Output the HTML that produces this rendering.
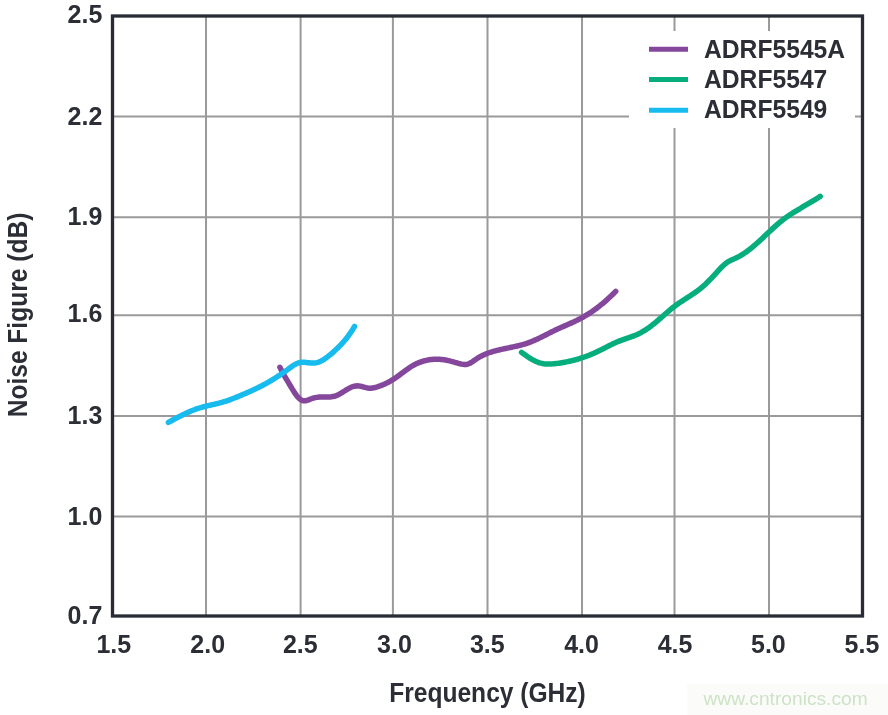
<!DOCTYPE html>
<html><head><meta charset="utf-8"><style>
html,body{margin:0;padding:0;background:#fff;}
body{width:888px;height:715px;overflow:hidden;position:relative;}
svg{position:absolute;left:0;top:0;will-change:transform;}
text{font-family:"Liberation Sans",sans-serif;font-weight:bold;fill:#2c2e36;}
</style></head><body>
<svg width="888" height="715" viewBox="0 0 888 715">
<rect x="0" y="0" width="888" height="715" fill="#fff"/>
<g stroke="#9a9a9c" stroke-width="2" fill="none"><line x1="206.00" y1="16" x2="206.00" y2="616"/><line x1="300.60" y1="16" x2="300.60" y2="616"/><line x1="392.90" y1="16" x2="392.90" y2="616"/><line x1="487.50" y1="16" x2="487.50" y2="616"/><line x1="582.00" y1="16" x2="582.00" y2="616"/><line x1="674.50" y1="16" x2="674.50" y2="616"/><line x1="769.00" y1="16" x2="769.00" y2="616"/><line x1="112.5" y1="116.5" x2="862.5" y2="116.5"/><line x1="112.5" y1="217.3" x2="862.5" y2="217.3"/><line x1="112.5" y1="315.2" x2="862.5" y2="315.2"/><line x1="112.5" y1="415.9" x2="862.5" y2="415.9"/><line x1="112.5" y1="516.5" x2="862.5" y2="516.5"/></g>
<rect x="629" y="31" width="226" height="97" fill="#fff"/>
<g stroke-width="5.5" fill="none" stroke-linecap="round" stroke-linejoin="round">
<path d="M521.53,352.36 L522.72,353.23 L523.92,354.10 L525.15,354.97 L526.38,355.83 L527.63,356.68 L528.90,357.52 L530.19,358.32 L531.49,359.10 L532.80,359.84 L534.13,360.54 L535.48,361.19 L536.85,361.78 L538.24,362.32 L539.64,362.79 L541.05,363.18 L542.49,363.50 L543.94,363.73 L545.41,363.90 L546.89,363.99 L548.38,364.03 L549.88,364.01 L551.39,363.95 L552.89,363.85 L554.40,363.71 L555.91,363.55 L557.41,363.36 L558.91,363.16 L560.41,362.94 L561.90,362.71 L563.38,362.46 L564.86,362.19 L566.34,361.91 L567.81,361.61 L569.27,361.30 L570.73,360.97 L572.19,360.62 L573.64,360.26 L575.08,359.88 L576.52,359.48 L577.95,359.07 L579.38,358.64 L580.80,358.20 L582.22,357.74 L583.63,357.26 L585.04,356.77 L586.43,356.26 L587.83,355.73 L589.22,355.19 L590.60,354.64 L591.97,354.06 L593.34,353.47 L594.71,352.87 L596.06,352.24 L597.42,351.61 L598.76,350.96 L600.10,350.29 L601.44,349.62 L602.78,348.94 L604.11,348.26 L605.45,347.57 L606.78,346.89 L608.12,346.21 L609.46,345.53 L610.81,344.86 L612.15,344.20 L613.51,343.56 L614.87,342.93 L616.24,342.31 L617.61,341.72 L619.00,341.14 L620.40,340.59 L621.81,340.07 L623.22,339.56 L624.64,339.07 L626.07,338.59 L627.50,338.11 L628.92,337.64 L630.35,337.15 L631.76,336.65 L633.17,336.14 L634.56,335.61 L635.94,335.04 L637.31,334.45 L638.66,333.81 L639.98,333.15 L641.30,332.45 L642.59,331.71 L643.87,330.95 L645.14,330.16 L646.39,329.35 L647.62,328.50 L648.85,327.64 L650.06,326.76 L651.26,325.86 L652.45,324.94 L653.63,324.00 L654.80,323.06 L655.96,322.10 L657.11,321.13 L658.25,320.15 L659.39,319.17 L660.52,318.19 L661.65,317.20 L662.77,316.21 L663.89,315.22 L665.01,314.23 L666.14,313.25 L667.26,312.27 L668.39,311.30 L669.53,310.34 L670.68,309.39 L671.83,308.45 L672.99,307.52 L674.17,306.61 L675.36,305.71 L676.56,304.83 L677.78,303.96 L679.01,303.11 L680.25,302.27 L681.50,301.44 L682.75,300.62 L684.01,299.80 L685.27,298.99 L686.54,298.18 L687.80,297.37 L689.06,296.55 L690.32,295.73 L691.58,294.91 L692.83,294.08 L694.07,293.23 L695.30,292.38 L696.52,291.51 L697.72,290.63 L698.92,289.73 L700.09,288.81 L701.25,287.86 L702.39,286.90 L703.52,285.92 L704.63,284.92 L705.72,283.90 L706.81,282.87 L707.88,281.82 L708.94,280.76 L709.99,279.69 L711.03,278.60 L712.07,277.51 L713.09,276.41 L714.11,275.30 L715.13,274.18 L716.14,273.06 L717.15,271.94 L718.16,270.81 L719.17,269.70 L720.20,268.60 L721.23,267.52 L722.29,266.46 L723.37,265.44 L724.47,264.46 L725.61,263.53 L726.79,262.65 L728.01,261.83 L729.27,261.08 L730.59,260.40 L731.94,259.77 L733.31,259.17 L734.69,258.58 L736.05,257.96 L737.39,257.30 L738.71,256.62 L740.01,255.90 L741.29,255.15 L742.55,254.37 L743.80,253.57 L745.03,252.74 L746.24,251.89 L747.44,251.02 L748.63,250.13 L749.81,249.22 L750.97,248.30 L752.12,247.36 L753.27,246.40 L754.41,245.44 L755.53,244.46 L756.66,243.47 L757.77,242.47 L758.88,241.47 L759.99,240.45 L761.09,239.44 L762.19,238.41 L763.28,237.38 L764.37,236.35 L765.47,235.32 L766.56,234.29 L767.65,233.25 L768.75,232.22 L769.84,231.19 L770.94,230.17 L772.05,229.14 L773.15,228.13 L774.26,227.12 L775.38,226.12 L776.51,225.13 L777.64,224.15 L778.78,223.17 L779.93,222.22 L781.09,221.27 L782.25,220.34 L783.43,219.42 L784.63,218.52 L785.83,217.64 L787.05,216.78 L788.27,215.92 L789.51,215.09 L790.75,214.26 L792.01,213.45 L793.27,212.65 L794.54,211.85 L795.81,211.07 L797.09,210.29 L798.38,209.52 L799.67,208.76 L800.96,208.00 L802.25,207.24 L803.54,206.49 L804.84,205.73 L806.14,204.98 L807.43,204.23 L808.72,203.47 L810.01,202.71 L811.30,201.94 L812.58,201.18 L813.86,200.40 L815.13,199.62 L816.40,198.83 L817.66,198.02 L818.91,197.21 L820.15,196.39" stroke="#06ae7d"/>
<path d="M279.91,367.28 L280.59,368.63 L281.28,369.97 L281.98,371.30 L282.69,372.62 L283.41,373.93 L284.14,375.24 L284.87,376.53 L285.61,377.82 L286.36,379.11 L287.11,380.39 L287.87,381.67 L288.63,382.94 L289.40,384.22 L290.17,385.50 L290.95,386.78 L291.72,388.06 L292.50,389.34 L293.28,390.63 L294.08,391.91 L294.90,393.18 L295.76,394.43 L296.68,395.65 L297.65,396.82 L298.71,397.94 L299.85,398.99 L301.06,399.87 L302.33,400.48 L303.64,400.75 L304.99,400.73 L306.37,400.50 L307.78,400.10 L309.21,399.59 L310.66,399.04 L312.13,398.49 L313.61,398.01 L315.10,397.64 L316.59,397.37 L318.09,397.19 L319.60,397.09 L321.10,397.04 L322.60,397.03 L324.09,397.03 L325.58,397.05 L327.06,397.05 L328.53,397.02 L329.99,396.94 L331.44,396.81 L332.86,396.59 L334.27,396.27 L335.66,395.84 L337.03,395.30 L338.38,394.67 L339.72,393.96 L341.05,393.19 L342.37,392.38 L343.68,391.54 L345.00,390.70 L346.31,389.87 L347.63,389.08 L348.95,388.33 L350.29,387.64 L351.64,387.04 L353.00,386.54 L354.39,386.17 L355.80,385.93 L357.23,385.84 L358.69,385.92 L360.17,386.16 L361.68,386.49 L363.19,386.89 L364.71,387.30 L366.23,387.68 L367.74,387.99 L369.23,388.19 L370.70,388.22 L372.15,388.08 L373.58,387.81 L375.01,387.46 L376.43,387.08 L377.84,386.65 L379.26,386.18 L380.66,385.68 L382.06,385.14 L383.45,384.57 L384.82,383.96 L386.19,383.32 L387.54,382.65 L388.88,381.95 L390.20,381.22 L391.50,380.46 L392.78,379.68 L394.04,378.87 L395.28,378.03 L396.51,377.18 L397.72,376.31 L398.93,375.43 L400.12,374.55 L401.31,373.65 L402.50,372.76 L403.69,371.87 L404.88,370.98 L406.07,370.10 L407.27,369.24 L408.49,368.39 L409.72,367.57 L410.96,366.76 L412.23,365.99 L413.51,365.24 L414.82,364.53 L416.16,363.86 L417.52,363.23 L418.92,362.64 L420.34,362.10 L421.79,361.60 L423.25,361.15 L424.73,360.74 L426.22,360.38 L427.72,360.07 L429.22,359.80 L430.73,359.58 L432.23,359.41 L433.73,359.30 L435.22,359.23 L436.70,359.21 L438.17,359.24 L439.63,359.31 L441.08,359.43 L442.52,359.59 L443.97,359.79 L445.41,360.03 L446.85,360.30 L448.29,360.60 L449.73,360.94 L451.18,361.30 L452.64,361.68 L454.11,362.09 L455.58,362.52 L457.07,362.97 L458.56,363.40 L460.05,363.79 L461.53,364.11 L463.00,364.35 L464.44,364.46 L465.86,364.43 L467.25,364.22 L468.60,363.82 L469.91,363.24 L471.19,362.52 L472.46,361.70 L473.73,360.81 L474.99,359.91 L476.26,359.03 L477.55,358.19 L478.86,357.41 L480.17,356.66 L481.51,355.96 L482.86,355.30 L484.22,354.68 L485.59,354.09 L486.97,353.53 L488.36,353.01 L489.77,352.52 L491.18,352.06 L492.60,351.62 L494.03,351.20 L495.47,350.80 L496.91,350.43 L498.36,350.07 L499.81,349.72 L501.27,349.39 L502.73,349.07 L504.20,348.75 L505.66,348.45 L507.13,348.14 L508.60,347.84 L510.07,347.54 L511.54,347.23 L513.00,346.92 L514.47,346.61 L515.93,346.28 L517.38,345.95 L518.84,345.60 L520.28,345.23 L521.73,344.85 L523.16,344.45 L524.59,344.03 L526.01,343.58 L527.42,343.11 L528.83,342.61 L530.22,342.09 L531.61,341.54 L532.99,340.97 L534.36,340.38 L535.73,339.78 L537.09,339.16 L538.45,338.52 L539.80,337.88 L541.15,337.22 L542.50,336.55 L543.84,335.88 L545.19,335.20 L546.53,334.52 L547.87,333.84 L549.21,333.16 L550.55,332.48 L551.90,331.80 L553.24,331.13 L554.59,330.47 L555.94,329.82 L557.29,329.18 L558.65,328.55 L560.01,327.93 L561.38,327.32 L562.74,326.72 L564.11,326.12 L565.47,325.52 L566.84,324.93 L568.20,324.33 L569.57,323.73 L570.93,323.13 L572.28,322.52 L573.64,321.90 L574.98,321.28 L576.33,320.64 L577.66,319.99 L578.99,319.33 L580.32,318.64 L581.63,317.94 L582.94,317.22 L584.23,316.48 L585.52,315.73 L586.80,314.95 L588.07,314.16 L589.34,313.35 L590.59,312.53 L591.83,311.69 L593.07,310.83 L594.29,309.96 L595.51,309.08 L596.72,308.18 L597.91,307.27 L599.10,306.35 L600.28,305.41 L601.45,304.47 L602.61,303.51 L603.75,302.54 L604.89,301.56 L606.02,300.58 L607.14,299.58 L608.25,298.58 L609.34,297.57 L610.43,296.55 L611.51,295.53 L612.57,294.50 L613.63,293.46 L614.67,292.42 L615.71,291.37" stroke="#84479c"/>
<path d="M168.39,422.38 L169.69,421.67 L171.00,420.96 L172.30,420.25 L173.61,419.54 L174.93,418.84 L176.24,418.14 L177.56,417.45 L178.89,416.76 L180.22,416.08 L181.55,415.42 L182.89,414.76 L184.24,414.11 L185.59,413.47 L186.94,412.85 L188.30,412.24 L189.67,411.65 L191.04,411.07 L192.42,410.51 L193.81,409.97 L195.21,409.44 L196.61,408.94 L198.01,408.46 L199.43,407.99 L200.85,407.55 L202.29,407.14 L203.73,406.75 L205.17,406.37 L206.62,406.02 L208.08,405.67 L209.54,405.34 L211.00,405.01 L212.46,404.68 L213.92,404.35 L215.37,404.02 L216.83,403.67 L218.27,403.32 L219.72,402.94 L221.15,402.55 L222.58,402.14 L224.00,401.71 L225.41,401.26 L226.82,400.79 L228.22,400.31 L229.61,399.82 L231.01,399.31 L232.39,398.79 L233.78,398.25 L235.16,397.71 L236.54,397.16 L237.92,396.60 L239.29,396.04 L240.67,395.47 L242.04,394.89 L243.42,394.31 L244.79,393.73 L246.16,393.13 L247.53,392.54 L248.89,391.93 L250.26,391.32 L251.62,390.70 L252.97,390.08 L254.33,389.44 L255.68,388.80 L257.02,388.15 L258.36,387.50 L259.70,386.83 L261.03,386.15 L262.35,385.47 L263.67,384.77 L264.99,384.07 L266.29,383.35 L267.59,382.63 L268.88,381.89 L270.17,381.14 L271.44,380.39 L272.71,379.62 L273.98,378.84 L275.23,378.05 L276.48,377.24 L277.73,376.43 L278.97,375.61 L280.21,374.78 L281.44,373.94 L282.67,373.10 L283.90,372.24 L285.12,371.38 L286.34,370.50 L287.56,369.62 L288.78,368.73 L290.00,367.84 L291.22,366.95 L292.45,366.09 L293.69,365.27 L294.95,364.51 L296.23,363.83 L297.55,363.25 L298.89,362.79 L300.28,362.46 L301.70,362.29 L303.17,362.26 L304.67,362.33 L306.19,362.48 L307.72,362.66 L309.25,362.85 L310.78,363.01 L312.28,363.09 L313.76,363.08 L315.20,362.93 L316.61,362.67 L317.99,362.29 L319.33,361.81 L320.65,361.23 L321.94,360.58 L323.21,359.85 L324.45,359.06 L325.67,358.21 L326.88,357.33 L328.07,356.41 L329.24,355.47 L330.40,354.51 L331.55,353.54 L332.69,352.56 L333.81,351.57 L334.92,350.56 L336.02,349.55 L337.10,348.52 L338.16,347.47 L339.21,346.42 L340.25,345.35 L341.27,344.26 L342.28,343.17 L343.27,342.06 L344.24,340.93 L345.20,339.80 L346.14,338.65 L347.06,337.48 L347.96,336.30 L348.85,335.11 L349.72,333.90 L350.57,332.68 L351.40,331.45 L352.21,330.19 L353.01,328.93 L353.78,327.65 L354.53,326.35" stroke="#17bbee"/>
</g>
<rect x="112.5" y="16" width="750" height="600" fill="none" stroke="#2a2c35" stroke-width="3.3"/>
<g font-size="25"><text x="102.3" y="23.3" text-anchor="end">2.5</text><text x="102.3" y="124.9" text-anchor="end">2.2</text><text x="102.3" y="224.8" text-anchor="end">1.9</text><text x="102.3" y="321.7" text-anchor="end">1.6</text><text x="102.3" y="424.4" text-anchor="end">1.3</text><text x="102.3" y="524.9" text-anchor="end">1.0</text><text x="102.3" y="623.5" text-anchor="end">0.7</text><text x="113.8" y="653" text-anchor="middle">1.5</text><text x="207.7" y="653" text-anchor="middle">2.0</text><text x="300.3" y="653" text-anchor="middle">2.5</text><text x="394.5" y="653" text-anchor="middle">3.0</text><text x="487.3" y="653" text-anchor="middle">3.5</text><text x="581.6" y="653" text-anchor="middle">4.0</text><text x="675.1" y="653" text-anchor="middle">4.5</text><text x="768.4" y="653" text-anchor="middle">5.0</text><text x="862.0" y="653" text-anchor="middle">5.5</text></g>
<g stroke-width="5">
<line x1="649" y1="49.2" x2="688" y2="49.2" stroke="#84479c"/>
<line x1="649" y1="79.4" x2="688" y2="79.4" stroke="#06ae7d"/>
<line x1="649" y1="110.2" x2="688" y2="110.2" stroke="#17bbee"/>
</g>
<g font-size="26.3" transform="translate(704,0) scale(0.9376,1)">
<text x="0" y="58">ADRF5545A</text>
<text x="0" y="88.3">ADRF5547</text>
<text x="0" y="118.3">ADRF5549</text>
</g>
<text transform="translate(487.5,702) scale(0.917,1)" font-size="26.8" text-anchor="middle">Frequency (GHz)</text>
<text transform="translate(27,315) rotate(-90) scale(0.917,1)" font-size="26.8" text-anchor="middle">Noise Figure (dB)</text>
<rect x="687" y="684" width="201" height="31" fill="#fbfcfa"/>
<text x="703.5" y="705.3" font-size="19.2" style="font-weight:normal;fill:#cde2c6">www.cntronics.com</text>
</svg>
</body></html>
